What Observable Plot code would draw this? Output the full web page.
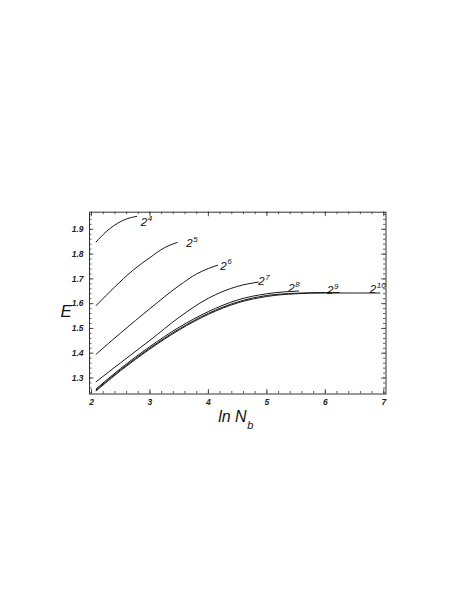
<!DOCTYPE html>
<html>
<head>
<meta charset="utf-8">
<script src="https://cdn.jsdelivr.net/npm/d3@7"></script>
<script src="https://cdn.jsdelivr.net/npm/@observablehq/plot@0.6"></script>
<style>
  html, body { margin: 0; padding: 0; background: #fff; }
  #chart svg { display: block; }
</style>
</head>
<body>
<div id="chart"></div>
<script>
// ---- data ----
const lnNb_N16 = [2.079, 2.25, 2.45, 2.6, 2.773];
const E_N16    = [1.849, 1.890, 1.925, 1.942, 1.952];

const lnNb_N32 = [2.079, 2.4, 2.7, 3.0, 3.25, 3.466];
const E_N32    = [1.592, 1.668, 1.733, 1.786, 1.826, 1.847];

const lnNb_N64 = [2.079, 2.5, 3.0, 3.5, 3.8, 4.0, 4.159];
const E_N64    = [1.396, 1.482, 1.580, 1.673, 1.720, 1.742, 1.755];

const lnNb_N128 = [2.079, 2.5, 3.0, 3.5, 4.0, 4.5, 4.852];
const E_N128    = [1.285, 1.362, 1.452, 1.545, 1.622, 1.670, 1.687];

const lnNb_N256 = [2.079, 2.5, 3.0, 3.5, 4.0, 4.5, 5.0, 5.545];
const E_N256    = [1.256, 1.339, 1.427, 1.505, 1.568, 1.615, 1.640, 1.651];

const lnNb_N512 = [2.079, 2.5, 3.0, 3.5, 4.0, 4.5, 5.0, 5.5, 6.0, 6.238];
const E_N512    = [1.252, 1.334, 1.421, 1.498, 1.561, 1.607, 1.633, 1.642, 1.645, 1.645];

const lnNb_N1024 = [2.079, 2.5, 3.0, 3.5, 4.0, 4.5, 5.0, 5.5, 6.0, 6.5, 6.931];
const E_N1024    = [1.248, 1.330, 1.417, 1.494, 1.557, 1.603, 1.629, 1.640, 1.643, 1.643, 1.643];

// curve labels 2^k
const labelExp = ["4", "5", "6", "7", "8", "9", "10"];
const labelX   = [2.898, 3.677, 4.258, 4.908, 5.421, 6.085, 6.815];
const labelY   = [1.927, 1.842, 1.752, 1.689, 1.661, 1.653, 1.657];

// ticks
const xTickLabels = [2, 3, 4, 5, 6, 7];
const yTickLabels = [1.3, 1.4, 1.5, 1.6, 1.7, 1.8, 1.9];
const xMinorTicks = d3.range(2, 7.0001, 0.2).map(v => +v.toFixed(2));
const yMinorTicks = d3.range(1.24, 1.9601, 0.02).map(v => +v.toFixed(2));

const xDomain = [1.966, 7.038];
const yDomain = [1.2355, 1.969];

// ---- layout ----
const W = 471, H = 609;
const mL = 89, mR = 85.5, mT = 211.7, mB = 215.5;
const fw = W - mL - mR, fh = H - mT - mB;

const seriesList = [
  ["16", lnNb_N16, E_N16], ["32", lnNb_N32, E_N32], ["64", lnNb_N64, E_N64],
  ["128", lnNb_N128, E_N128], ["256", lnNb_N256, E_N256],
  ["512", lnNb_N512, E_N512], ["1024", lnNb_N1024, E_N1024]
];
const rows = seriesList.flatMap(([n, xs, ys]) => xs.map((x, i) => ({n, x, y: ys[i]})));
const labels = labelExp.map((e, i) => ({e, x: labelX[i], y: labelY[i]}));

const tickFont = {fontFamily: "Liberation Sans, Arial, sans-serif", fontSize: 8.5, fontWeight: "bold", fontStyle: "italic", fill: "#222"};
const italic = {fontFamily: "Liberation Sans, Arial, sans-serif", fontStyle: "italic", fill: "#111"};
const tickStroke = {stroke: "#333", strokeWidth: 0.8};

const chart = Plot.plot({
  width: W, height: H,
  marginLeft: mL, marginRight: mR, marginTop: mT, marginBottom: mB,
  style: {background: "#fff", overflow: "visible"},
  x: {domain: xDomain, axis: null},
  y: {domain: yDomain, axis: null},
  marks: [
    // minor ticks (inward on all four sides)
    Plot.tickX(xMinorTicks, {x: d => d, insetTop: fh - 2.5, ...tickStroke}),
    Plot.tickX(xMinorTicks, {x: d => d, insetBottom: fh - 2.5, ...tickStroke}),
    Plot.tickY(yMinorTicks, {y: d => d, insetRight: fw - 2.5, ...tickStroke}),
    Plot.tickY(yMinorTicks, {y: d => d, insetLeft: fw - 2.5, ...tickStroke}),
    // major ticks
    Plot.tickX(xTickLabels, {x: d => d, insetTop: fh - 4.5, ...tickStroke}),
    Plot.tickX(xTickLabels, {x: d => d, insetBottom: fh - 4.5, ...tickStroke}),
    Plot.tickY(yTickLabels, {y: d => d, insetRight: fw - 4.5, ...tickStroke}),
    Plot.tickY(yTickLabels, {y: d => d, insetLeft: fw - 4.5, ...tickStroke}),
    Plot.frame({stroke: "#333", strokeWidth: 1}),
    // curves
    Plot.line(rows, {x: "x", y: "y", z: "n", stroke: "#1a1a1a", strokeWidth: 1, curve: "monotone-x"}),
    // tick labels
    Plot.text(xTickLabels, {x: d => d, text: d => String(d), frameAnchor: "bottom", dy: 10.5, ...tickFont}),
    Plot.text(yTickLabels, {y: d => d, text: d => d.toFixed(1), frameAnchor: "left", dx: -6, textAnchor: "end", ...tickFont}),
    // curve labels: base "2" and superscript exponent
    Plot.text(labels, {x: "x", y: "y", text: () => "2", fontSize: 11.5, ...italic}),
    Plot.text(labels, {x: "x", y: "y", text: "e", fontSize: 8, dx: 3.8, dy: -4.5, textAnchor: "start", ...italic}),
    // axis titles
    Plot.text([1.57], {y: d => d, text: () => "E", frameAnchor: "left", dx: -29, fontSize: 17, ...italic}),
    Plot.text([4.5], {x: d => d, text: () => "ln N", frameAnchor: "bottom", dy: 28, textAnchor: "end", dx: 9, fontSize: 16, ...italic}),
    Plot.text([4.5], {x: d => d, text: () => "b", frameAnchor: "bottom", dy: 35, textAnchor: "start", dx: 9.5, fontSize: 11, ...italic})
  ]
});
document.getElementById("chart").appendChild(chart);
</script>
</body>
</html>
